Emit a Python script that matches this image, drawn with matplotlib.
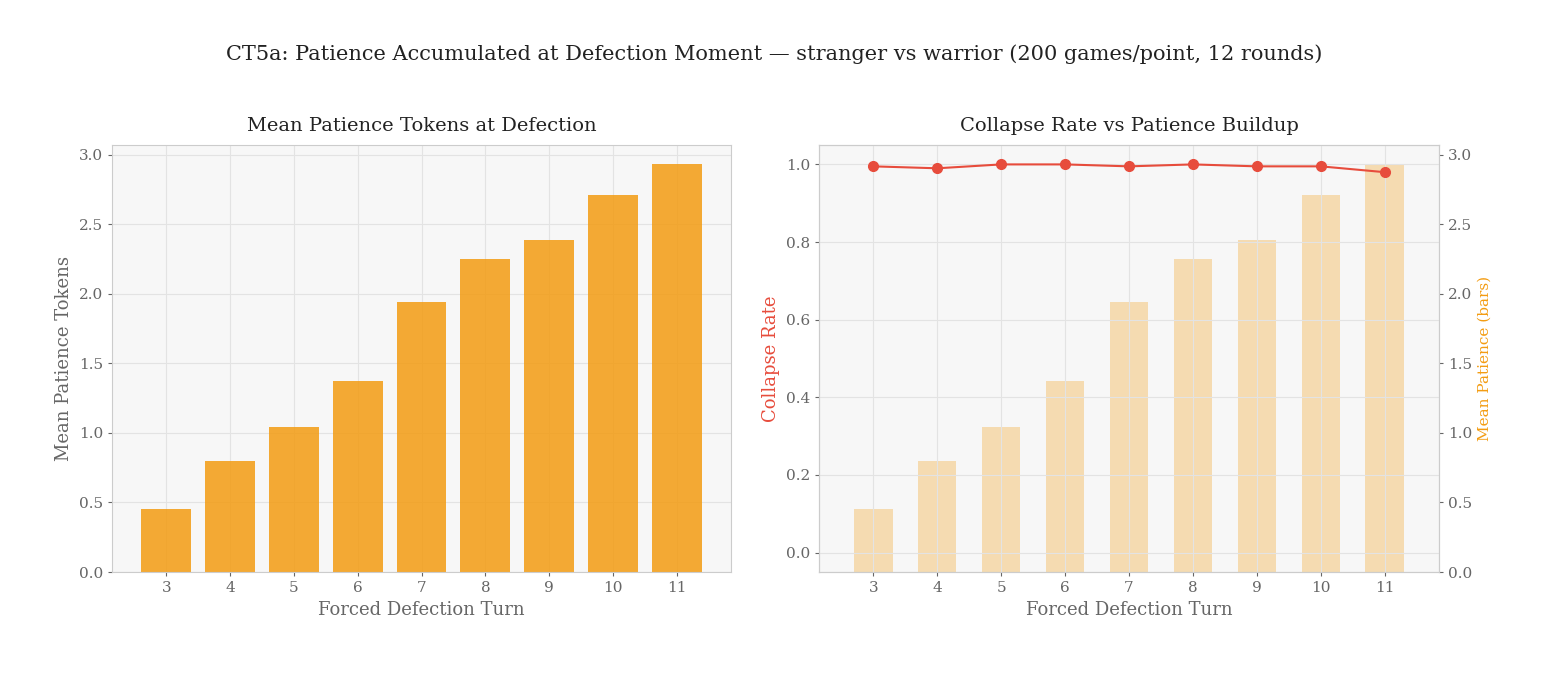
import matplotlib
matplotlib.use("Agg")
import matplotlib.pyplot as plt

plt.rcParams['font.family'] = ['DejaVu Serif']

turns = [3, 4, 5, 6, 7, 8, 9, 10, 11]
mean_patience = [0.45, 0.80, 1.04, 1.37, 1.94, 2.25, 2.39, 2.71, 2.93]
collapse_rate = [0.995, 0.99, 1.0, 1.0, 0.995, 1.0, 0.995, 0.995, 0.98]

orange = '#f39c12'
red = '#e74c3c'
gray = '#666666'

fig = plt.figure(figsize=(15.49, 6.75), dpi=100)
fig.suptitle('CT5a: Patience Accumulated at Defection Moment — stranger vs warrior (200 games/point, 12 rounds)',
             fontsize=15, y=0.935, color='#222222')

ax1 = fig.add_axes([112/1549, 1-572/675, 619/1549, 427/675])
ax2 = fig.add_axes([819/1549, 1-572/675, 620/1549, 427/675])

for ax in (ax1, ax2):
    ax.set_facecolor('#f7f7f7')
    for s in ax.spines.values():
        s.set_color('#cccccc')
    ax.tick_params(colors=gray, labelsize=11, length=3)
    ax.grid(True, color='#e3e3e3', linewidth=0.8)
    ax.set_axisbelow(True)

# left panel
ax1.bar(turns, mean_patience, width=0.78, color=orange, alpha=0.85)
ax1.set_xticks(turns)
ax1.set_xlim(2.15, 11.85)
ax1.set_ylim(0, 3.07)
ax1.set_title('Mean Patience Tokens at Defection', fontsize=14, pad=10, color='#222222')
ax1.set_xlabel('Forced Defection Turn', fontsize=13, color=gray)
ax1.set_ylabel('Mean Patience Tokens', fontsize=13, color=gray)

# right panel
ax3 = ax2.twinx()
ax3.bar(turns, mean_patience, width=0.6, color=orange, alpha=0.3)
ax3.set_ylim(0, 3.07)
ax3.tick_params(colors=gray, labelsize=11, length=3)
ax3.set_ylabel('Mean Patience (bars)', fontsize=11, color=orange)
for s in ax3.spines.values():
    s.set_color('#cccccc')
ax2.set_zorder(ax3.get_zorder() + 1)
ax2.patch.set_visible(False)
ax3.set_facecolor('#f7f7f7')
ax3.patch.set_visible(True)
ax3.set_zorder(0)
ax2.plot(turns, collapse_rate, color=red, marker='o', markersize=7, linewidth=1.5)
ax2.set_ylim(-0.05, 1.05)
ax2.set_xticks(turns)
ax2.set_xlim(2.15, 11.85)
ax2.set_title('Collapse Rate vs Patience Buildup', fontsize=14, pad=10, color='#222222')
ax2.set_xlabel('Forced Defection Turn', fontsize=13, color=gray)
ax2.set_ylabel('Collapse Rate', fontsize=13, color=red)

fig.savefig('out.png', dpi=100)
